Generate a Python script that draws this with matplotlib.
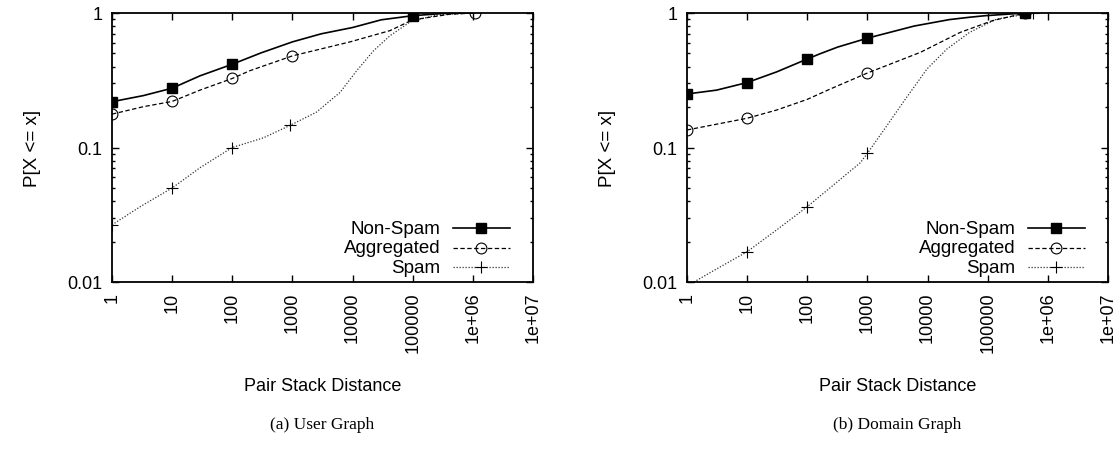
import numpy as np
import matplotlib
matplotlib.use("Agg")
import matplotlib.pyplot as plt
from matplotlib.ticker import LogLocator, FixedLocator, FixedFormatter, NullFormatter

plt.rcParams['font.family'] = ['Liberation Sans', 'DejaVu Sans']

# values: x (pair stack distance), y (cumulative fraction)
# (a) User Graph
user_nonspam_x = [1, 3.3, 10, 29, 100, 300, 1000, 3000, 10000, 30000, 1e5, 3.5e5, 1e6]
user_nonspam_y = [0.219, 0.243, 0.276, 0.341, 0.416, 0.505, 0.610, 0.70, 0.78, 0.89, 0.955, 0.995, 1.0]
user_nonspam_marks = [0, 2, 4, 10]

user_agg_x = [1, 3.3, 10, 29, 100, 195, 1000, 9100, 42000, 1e5, 4.2e5, 1.1e6]
user_agg_y = [0.177, 0.201, 0.220, 0.267, 0.326, 0.372, 0.480, 0.61, 0.74, 0.89, 0.98, 1.0]
user_agg_marks = [0, 2, 4, 6, 11]

user_spam_x = [1, 3.0, 10, 29, 100, 330, 910, 2500, 6200, 11700, 22400, 42000, 91000, 2.5e5, 1e6]
user_spam_y = [0.0266, 0.0365, 0.050, 0.0707, 0.100, 0.118, 0.146, 0.183, 0.257, 0.372, 0.525, 0.678, 0.86, 0.966, 1.0]
user_spam_marks = [0, 2, 4, 6]

# (b) Domain Graph
dom_nonspam_x = [1, 3.1, 10, 31, 100, 160, 320, 1000, 6000, 23000, 50000, 91000, 4.2e5]
dom_nonspam_y = [0.25, 0.267, 0.304, 0.365, 0.455, 0.496, 0.558, 0.650, 0.80, 0.893, 0.93, 0.955, 1.0]
dom_nonspam_marks = [0, 2, 4, 7, 12]

dom_agg_x = [1, 10, 31, 100, 240, 1000, 7600, 35000, 1.2e5, 3.5e5, 4.2e5]
dom_agg_y = [0.135, 0.165, 0.19, 0.228, 0.272, 0.358, 0.51, 0.718, 0.877, 0.98, 1.0]
dom_agg_marks = [0, 1, 5, 10]

dom_spam_x = [1.3, 3.2, 10, 31, 100, 760, 1000, 2100, 4300, 9800, 21000, 50000, 1.4e5, 5.7e5]
dom_spam_y = [0.010, 0.0126, 0.0168, 0.0244, 0.0363, 0.077, 0.0906, 0.145, 0.23, 0.384, 0.54, 0.718, 0.90, 1.0]
dom_spam_marks = [2, 4, 6, 13]

xtick_vals = [1, 10, 100, 1000, 10000, 100000, 1e6, 1e7]
xtick_labels = ['1', '10', '100', '1000', '10000', '100000', '1e+06', '1e+07']
ytick_vals = [0.01, 0.1, 1]
ytick_labels = ['0.01', '0.1', '1']
legend_names = ['Non-Spam', 'Aggregated', 'Spam']
captions = ['(a) User Graph', '(b) Domain Graph']

styles = [
    dict(color='black', lw=1.2, ls='-', marker='s', ms=7.8, mfc='black', mec='black'),
    dict(color='black', lw=0.9, ls=(0, (3.5, 2)), marker='o', ms=7.8, mfc='none', mec='black', mew=0.8),
    dict(color='#333333', lw=0.9, ls=(0, (1, 1.4)), marker='+', ms=8.5, mec='black', mew=0.8),
]

panels = [
    [(user_nonspam_x, user_nonspam_y, user_nonspam_marks),
     (user_agg_x, user_agg_y, user_agg_marks),
     (user_spam_x, user_spam_y, user_spam_marks)],
    [(dom_nonspam_x, dom_nonspam_y, dom_nonspam_marks),
     (dom_agg_x, dom_agg_y, dom_agg_marks),
     (dom_spam_x, dom_spam_y, dom_spam_marks)],
]

fig = plt.figure(figsize=(11.18, 4.56), dpi=100)
lefts = [112 / 1118, 687 / 1118]
W, H = 421 / 1118, 269 / 456
B = 1 - 283 / 456

for k, series in enumerate(panels):
    ax = fig.add_axes([lefts[k], B, W, H])
    # draw in reverse order so squares end up on top
    for (xs, ys, marks), st in reversed(list(zip(series, styles))):
        ax.plot(xs, ys, markevery=marks, **st)
    ax.set_xscale('log')
    ax.set_yscale('log')
    ax.set_xlim(1, 1e7)
    ax.set_ylim(0.01, 1)
    ax.xaxis.set_major_locator(FixedLocator(xtick_vals))
    ax.xaxis.set_major_formatter(FixedFormatter(xtick_labels))
    ax.xaxis.set_minor_locator(LogLocator(base=10, subs=np.arange(2, 10)))
    ax.xaxis.set_minor_formatter(NullFormatter())
    ax.yaxis.set_major_locator(FixedLocator(ytick_vals))
    ax.yaxis.set_major_formatter(FixedFormatter(ytick_labels))
    ax.yaxis.set_minor_locator(LogLocator(base=10, subs=np.arange(2, 10)))
    ax.yaxis.set_minor_formatter(NullFormatter())
    ax.tick_params(which='both', direction='in', top=True, right=True, width=1)
    ax.tick_params(which='major', length=5, labelsize=13, pad=7)
    ax.tick_params(which='minor', length=2.5)
    for lab in ax.get_xticklabels():
        lab.set_rotation(90)
    for sp in ax.spines.values():
        sp.set_linewidth(1.3)
    ax.set_xlabel('Pair Stack Distance', fontsize=13, labelpad=18)
    ax.set_ylabel('P[X <= x]', fontsize=13.5, labelpad=19)

    # key in the lower right, text right-aligned, sample to its right
    for i, (name, st) in enumerate(zip(legend_names, styles)):
        yy = 0.20 - i * 0.073
        ax.text(0.78, yy, name, transform=ax.transAxes, ha='right', va='center', fontsize=13.5)
        ax.plot([0.81, 0.945], [yy, yy], transform=ax.transAxes, clip_on=False,
                **{kk: v for kk, v in st.items() if kk not in ('marker', 'ms', 'mfc', 'mec', 'mew')})
        ax.plot([0.877], [yy], transform=ax.transAxes, ls='none', clip_on=False,
                **{kk: v for kk, v in st.items() if kk in ('marker', 'ms', 'mfc', 'mec', 'mew')})

    fig.text(lefts[k] + W / 2, 1 - 425 / 456, captions[k], ha='center', va='center',
             fontsize=12.5, family='Liberation Serif')

fig.savefig('out.png', dpi=100)
